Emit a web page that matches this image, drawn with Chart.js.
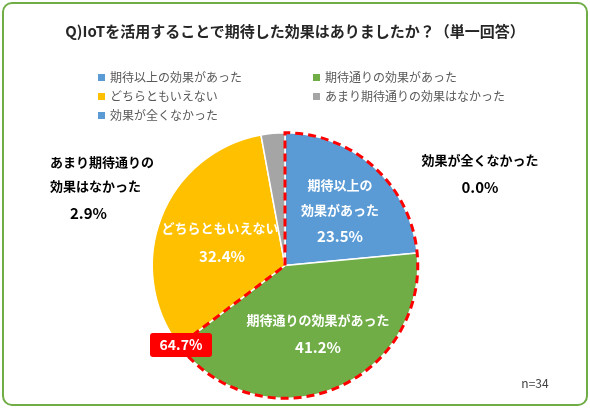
<!DOCTYPE html>
<html><head><meta charset="utf-8">
<script src="https://cdn.jsdelivr.net/npm/chart.js@4"></script>
<style>
body{margin:0;width:590px;height:408px;overflow:hidden;background:#fff;font-family:"Noto Sans CJK JP",sans-serif;}
#frame{position:absolute;left:2px;top:2px;width:582px;height:400px;border:2px solid #70AD47;border-radius:10px;}
#title{position:absolute;left:0;top:20px;width:590px;text-align:center;font-weight:bold;font-size:15px;color:#262626;}
.lg{position:absolute;font-size:12px;color:#595959;white-space:nowrap;}
.lg i{display:inline-block;width:7px;height:7px;margin-right:5px;vertical-align:middle;position:relative;top:-1px;}
#wrap{position:absolute;left:0;top:0;width:590px;height:408px;}
</style></head><body>
<div id="frame"></div>
<div id="wrap"><canvas id="c" width="590" height="408"></canvas></div>
<div id="title">Q)IoTを活用することで期待した効果はありましたか？（単一回答）</div>
<div id="legend"></div>
<script>
const categories=["期待以上の効果があった","期待通りの効果があった","どちらともいえない","あまり期待通りの効果はなかった","効果が全くなかった"];
const values=[23.5,41.2,32.4,2.9,0.0];
const colors=["#5B9BD5","#70AD47","#FFC000","#A5A5A5","#5B9BD5"];
const sumLabel="64.7%";
const nLabel="n=34";
const legendPos=[[98,68],[313,68],[98,87],[313,87],[98,106]];
const lg=document.getElementById('legend');
categories.forEach((c,i)=>{const d=document.createElement('div');d.className='lg';d.style.left=legendPos[i][0]+'px';d.style.top=legendPos[i][1]+'px';d.innerHTML='<i style="background:'+colors[i]+'"></i>'+c;lg.appendChild(d);});
const F='"Noto Sans CJK JP",sans-serif';
const overlay={id:'ov',afterDatasetsDraw(ch){
 const ctx=ch.ctx,m=ch.getDatasetMeta(0).data;
 const a0=m[0],a1=m[1];
 ctx.save();
 ctx.strokeStyle='#FF0000';ctx.lineWidth=3;ctx.setLineDash([8,5]);
 ctx.beginPath();ctx.moveTo(a0.x,a0.y);ctx.arc(a0.x,a0.y,a0.outerRadius,a0.startAngle,a1.endAngle);ctx.closePath();ctx.stroke();
 ctx.setLineDash([]);
 const txt=(t,x,y,col,size,align)=>{ctx.fillStyle=col;ctx.font='bold '+size+'px '+F;ctx.textAlign=align||'center';ctx.textBaseline='middle';ctx.fillText(t,x,y);};
 txt('期待以上の',340,185,'#fff',13);txt('効果があった',340,210,'#fff',13);txt(values[0].toFixed(1)+'%',340,236,'#fff',15);
 txt(categories[1],318,320,'#fff',13);txt(values[1].toFixed(1)+'%',318,347,'#fff',15);
 txt(categories[2],220,228,'#fff',13);txt(values[2].toFixed(1)+'%',222,256,'#fff',15);
 txt('あまり期待通りの',50,162,'#000',13,'left');txt('効果はなかった',50,186,'#000',13,'left');txt(values[3].toFixed(1)+'%',70,213,'#000',15,'left');
 txt(categories[4],480,160,'#000',13);txt(values[4].toFixed(1)+'%',480,187,'#000',15);
 ctx.fillStyle='#FF0000';ctx.beginPath();ctx.roundRect(150,333,62,24,3);ctx.fill();
 txt(sumLabel,181,345,'#fff',14);
 ctx.fillStyle='#404040';ctx.font='12px '+F;ctx.textAlign='center';ctx.fillText(nLabel,535,383);
 ctx.restore();}};
new Chart(document.getElementById('c'),{type:'pie',data:{labels:categories,datasets:[{data:values,backgroundColor:colors,borderColor:'#fff',borderWidth:1.5}]},
options:{responsive:false,animation:false,layout:{padding:{top:132,bottom:9,left:0,right:20}},plugins:{legend:{display:false},tooltip:{enabled:false}}},plugins:[overlay]});
</script></body></html>
